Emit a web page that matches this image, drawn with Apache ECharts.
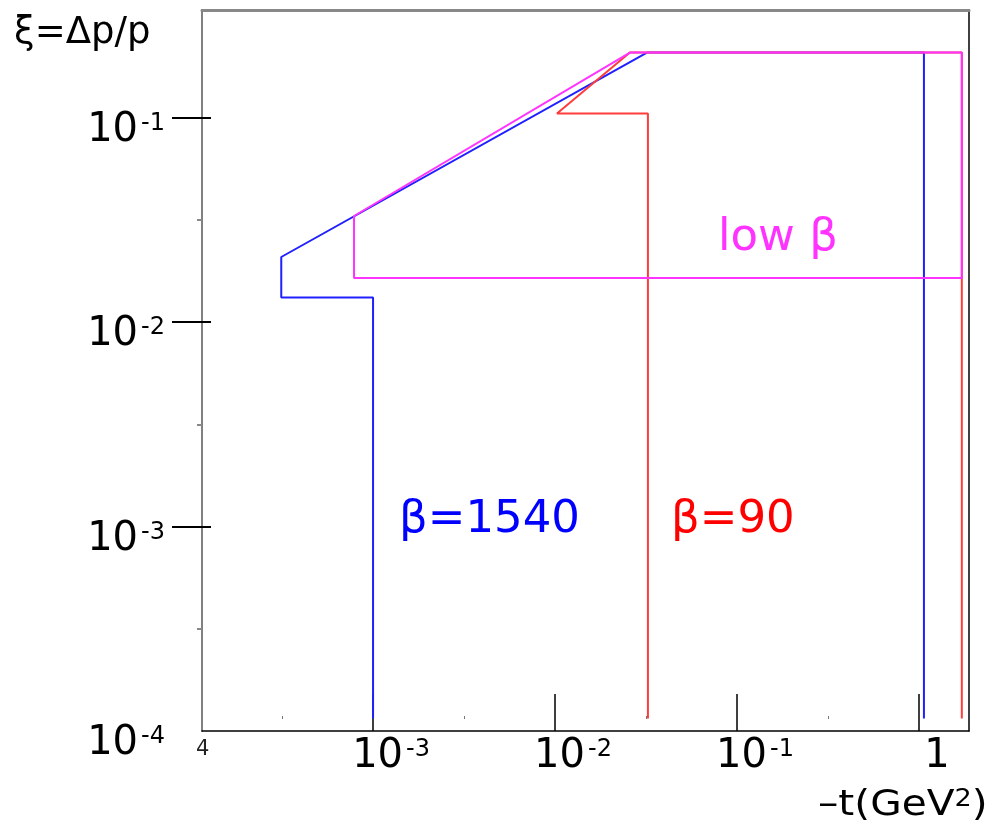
<!DOCTYPE html>
<html>
<head>
<meta charset="utf-8">
<script src="https://cdn.jsdelivr.net/npm/echarts@6/dist/echarts.min.js"></script>
<style>
  html, body { margin: 0; padding: 0; background: #fff; }
  #chart { width: 1000px; height: 833px; }
</style>
</head>
<body>
<div id="chart"></div>
<script>
// corners of each acceptance region: -t in GeV^2, xi = dp/p
const beta1540T  = [1.0e-3, 1.0e-3, 3.13e-4, 3.13e-4, 0.032, 1.065, 1.065];
const beta1540Xi = [1.15e-4, 0.0132, 0.0132, 0.0208, 0.208, 0.208, 1.15e-4];
const beta90T    = [0.0324, 0.0324, 0.01025, 0.0258, 1.72, 1.72];
const beta90Xi   = [1.15e-4, 0.1046, 0.1046, 0.208, 0.208, 1.15e-4];
const lowBetaT   = [7.86e-4, 7.86e-4, 1.72, 1.72, 0.0258, 7.86e-4];
const lowBetaXi  = [0.033, 0.0164, 0.0164, 0.208, 0.208, 0.033];

// tick decades (log10) and their labels
const xTicks = [-3, -2, -1, 0];
const xTickLabels = ['10^-3', '10^-2', '10^-1', '1'];
const xMinorTicks = [-3.5, -2.5, -1.5, -0.5];
const yTicks = [-4, -3, -2, -1];
const yTickLabels = ['10^-4', '10^-3', '10^-2', '10^-1'];
const yMajorTicks = [-3, -2, -1];
const yMinorTicks = [-3.5, -2.5, -1.5];

const X_MIN = -3.94, X_MAX = 0.275;
const Y_MIN = -4, Y_MAX = -0.474;
const FONT = 'DejaVu Sans';

const chart = echarts.init(document.getElementById('chart'));

// build [log10 t, log10 xi] pairs
const toPoints = (ts, xis) => ts.map((t, i) => [Math.log10(t), Math.log10(xis[i])]);

// '10^-3' -> rich text with superscript
const powLabel = s => {
  const m = s.match(/^10\^(.*)$/);
  return m ? '{b|10}{s|' + m[1] + '}' : '{b|' + s + '}';
};
const labelFor = (ticks, labels) => v => {
  const i = ticks.indexOf(Math.round(v));
  return i < 0 ? '' : powLabel(labels[i]);
};

const tickRich = {
  b: { fontSize: 40, lineHeight: 40, fontFamily: FONT, color: '#000' },
  s: { fontSize: 24, lineHeight: 24, fontFamily: FONT, color: '#000', padding: [0, 0, 14, 3] }
};

const hidden = { show: false };

const option = {
  animation: false,
  backgroundColor: '#fff',
  grid: { left: 202, right: 31, top: 10, bottom: 102 },
  xAxis: [
    {
      type: 'value', min: X_MIN, max: X_MAX, position: 'bottom',
      axisLine: { show: true, onZero: false, lineStyle: { color: '#000', width: 1.5 } },
      axisTick: { show: true, inside: true, length: 37, customValues: xTicks, lineStyle: { color: '#000', width: 1.5 } },
      axisLabel: { customValues: xTicks, formatter: labelFor(xTicks, xTickLabels), rich: tickRich, margin: 6, padding: [0, 0, 0, 36] },
      splitLine: hidden
    },
    {
      type: 'value', min: X_MIN, max: X_MAX, position: 'top',
      axisLine: { show: true, onZero: false, lineStyle: { color: '#888', width: 3 } },
      axisTick: hidden, axisLabel: hidden, splitLine: hidden
    },
    {
      type: 'value', min: X_MIN, max: X_MAX, position: 'bottom', offset: -12,
      axisLine: { show: false, onZero: false },
      axisTick: { show: true, inside: true, length: 3, customValues: xMinorTicks, lineStyle: { color: '#777', width: 1 } },
      axisLabel: hidden, splitLine: hidden
    }
  ],
  yAxis: [
    {
      // major ticks cross the axis line: this axis sits 9px inside the frame
      type: 'value', min: Y_MIN, max: Y_MAX, position: 'left', offset: -9, z: 20,
      axisLine: { show: false, onZero: false },
      axisTick: { show: true, length: 39, customValues: yMajorTicks, lineStyle: { color: '#000', width: 2 } },
      axisLabel: { customValues: yTicks, formatter: labelFor(yTicks, yTickLabels), rich: tickRich, margin: 46, padding: [26, 0, 0, 0] },
      splitLine: hidden
    },
    {
      type: 'value', min: Y_MIN, max: Y_MAX, position: 'left',
      axisLine: { show: true, onZero: false, lineStyle: { color: '#808080', width: 2 } },
      axisTick: { show: true, length: 5, customValues: yMinorTicks, lineStyle: { color: '#888', width: 2 } },
      axisLabel: hidden, splitLine: hidden
    },
    {
      type: 'value', min: Y_MIN, max: Y_MAX, position: 'right',
      axisLine: { show: true, onZero: false, lineStyle: { color: '#000', width: 1.5 } },
      axisTick: hidden, axisLabel: hidden, splitLine: hidden
    }
  ],
  series: [
    { name: 'beta=1540', type: 'line', data: toPoints(beta1540T, beta1540Xi), showSymbol: false, lineStyle: { color: '#2020ff', width: 2 } },
    { name: 'beta=90', type: 'line', data: toPoints(beta90T, beta90Xi), showSymbol: false, lineStyle: { color: '#ff3c3c', width: 2 } },
    { name: 'low beta', type: 'line', data: toPoints(lowBetaT, lowBetaXi), showSymbol: false, lineStyle: { color: '#ff33ff', width: 2 } }
  ],
  graphic: [
    { type: 'text', x: 14, y: 33, style: { text: 'ξ=Δp/p', font: '37px "DejaVu Sans"', fill: '#000', verticalAlign: 'middle' } },
    { type: 'text', x: 399, y: 520, style: { text: 'β=1540', font: '45px "DejaVu Sans"', fill: '#0000ff', verticalAlign: 'middle' } },
    { type: 'text', x: 671, y: 520, style: { text: 'β=90', font: '45px "DejaVu Sans"', fill: '#ff0000', verticalAlign: 'middle' } },
    { type: 'text', x: 718, y: 238, style: { text: 'low β', font: '45px "DejaVu Sans"', fill: '#ff33ff', verticalAlign: 'middle' } },
    {
      type: 'text', x: 818, y: 806, scaleX: 1.13,
      style: {
        text: '{b|–t(GeV}{s|2}{b|)}', verticalAlign: 'middle',
        rich: {
          b: { fontSize: 36, lineHeight: 36, fontFamily: FONT, fill: '#000' },
          s: { fontSize: 24, lineHeight: 24, fontFamily: FONT, fill: '#000', padding: [0, 0, 12, 0] }
        }
      }
    },
    { type: 'text', x: 196, y: 750, style: { text: '4', font: '21px "DejaVu Sans"', fill: '#222', verticalAlign: 'middle' } }
  ]
};

chart.setOption(option);
window.addEventListener('resize', () => chart.resize());
</script>
</body>
</html>
